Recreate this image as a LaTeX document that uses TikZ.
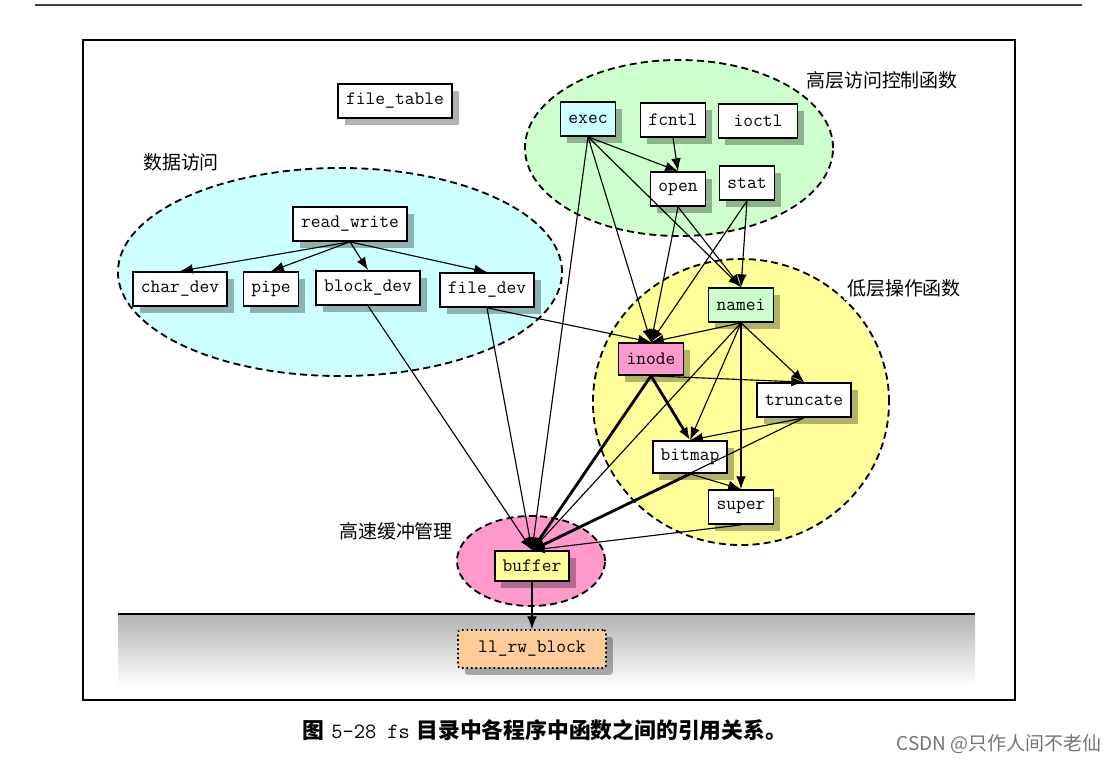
\documentclass[tikz,border=0pt]{standalone}
\usepackage{fontspec}
\newfontfamily\cjk{Noto Sans CJK SC}
\usetikzlibrary{arrows.meta,shadows}

\definecolor{cyanarea}{HTML}{CCFFFF}
\definecolor{greenarea}{HTML}{CCFFCC}
\definecolor{yellowarea}{HTML}{FFFF99}
\definecolor{pinkarea}{HTML}{FF99CC}
\definecolor{orangebox}{HTML}{FFCC99}

\begin{document}
\begin{tikzpicture}[x=0.025cm, y=-0.025cm,
  fnbox/.style={draw=black, line width=1.2pt, fill=white, rectangle,
    minimum height=0.85cm, inner xsep=0.2cm, inner ysep=2pt,
    font=\fontsize{13.5}{16}\selectfont\ttfamily,
    drop shadow={shadow xshift=0.17cm, shadow yshift=-0.17cm, fill=black, opacity=0.3}},
  area/.style={draw=black, line width=1.3pt, dash pattern=on 5pt off 3pt},
  grplbl/.style={font=\fontsize{13.5}{16}\selectfont\cjk, inner sep=2pt},
  ar/.style={-{Latex[length=3.2mm,width=2.4mm]}, line width=0.8pt},
  tar/.style={ar, line width=2pt},
]
\useasboundingbox (0,0) rectangle (1119,763);

%--- Rahmen ---
\draw[line width=2pt, black!75] (35,5) -- (1082,5);
\draw[line width=1.5pt] (83,40) rectangle (1015,700);
\shade[top color=black!30, bottom color=white] (118,614) rectangle (975,686);
\draw[line width=1pt] (118,614) -- (975,614);

%--- Bereiche ---
\draw[area, fill=cyanarea]   (340,272) ellipse [x radius=5.55cm, y radius=2.6cm];
\draw[area, fill=greenarea]  (679,148) ellipse [x radius=3.85cm, y radius=2.2cm];
\draw[area, fill=yellowarea] (741,402) ellipse [x radius=3.7cm, y radius=3.575cm];
\draw[area, fill=pinkarea]   (531,561) ellipse [x radius=1.85cm, y radius=1.125cm];

\node[grplbl] (lbldata) at (181,162) {数据访问};
\node[grplbl, fill=white] (lblhigh) at (882,80) {高层访问控制函数};
\node[grplbl, fill=white] (lbllow) at (904,288) {低层操作函数};
\node[grplbl] (lblbuf) at (396,531) {高速缓冲管理};

%--- Funktionen ---
\node[fnbox] (filetable) at (395,101) {file\_table};
\node[fnbox] (rw)        at (350,224) {read\_write};
\node[fnbox] (chardev)   at (180,289) {char\_dev};
\node[fnbox] (pipe)      at (271,289) {pipe};
\node[fnbox] (blockdev)  at (368,288) {block\_dev};
\node[fnbox] (filedev)   at (487,290) {file\_dev};

\node[fnbox, fill=cyanarea] (exec) at (588,119) {exec};
\node[fnbox] (fcntl) at (673,120) {fcntl};
\node[fnbox, minimum width=1.98cm] (ioctl) at (758,121) {ioctl};
\node[fnbox] (open)  at (678,189) {open};
\node[fnbox] (stat)  at (747,183) {stat};

\node[fnbox, fill=greenarea] (namei) at (741,305) {namei};
\node[fnbox, fill=pinkarea, minimum height=0.8cm] (inode) at (651,359) {inode};
\node[fnbox] (truncate) at (804,400) {truncate};
\node[fnbox, minimum height=0.8cm] (bitmap) at (690,457) {bitmap};
\node[fnbox] (super) at (741,507) {super};

\node[fnbox, fill=yellowarea, minimum height=0.75cm] (buffer) at (532,566) {buffer};
\node[fnbox, fill=orangebox, dotted, rounded corners=2pt, minimum width=3.7cm,
  minimum height=0.95cm] (llrw) at (532,649) {ll\_rw\_block};

%--- Aufrufe ---
\draw[ar] (rw.south) -- (chardev.north);
\draw[ar] (rw.south) -- (pipe.north);
\draw[ar] (rw.south) -- (blockdev.north);
\draw[ar] (rw.south) -- (filedev.north);

\draw[ar] (blockdev.south) -- (buffer.north);
\draw[ar] (filedev.south) -- (buffer.north);
\draw[ar] (filedev.south) -- (inode.north);

\draw[ar] (exec.south) -- (open.north);
\draw[ar] (exec.south) -- (namei.north);
\draw[ar] (exec.south) -- (inode.north);
\draw[ar] (exec.south) -- (buffer.north);
\draw[ar] (fcntl.south) -- (open.north);
\draw[ar] (open.south) -- (namei.north);
\draw[ar] (open.south) -- (inode.north);
\draw[ar] (stat.south) -- (namei.north);
\draw[ar] (stat.south) -- (inode.north);

\draw[ar] (namei.south) -- (inode.north);
\draw[ar] (namei.south) -- (truncate.north);
\draw[ar] (namei.south) -- (bitmap.north);
\draw[ar] (namei.south) -- (super.north);
\draw[ar] (namei.south) -- (buffer.north);
\draw[ar] (inode.south) -- (truncate.north);
\draw[tar] (inode.south) -- (bitmap.north);
\draw[tar] (inode.south) -- (buffer.north);
\draw[ar] (truncate.south) -- (bitmap.north);
\draw[ar] (truncate.south) -- (buffer.north);
\draw[ar] (bitmap.south) -- (super.north);
\draw[tar] (bitmap.south) -- (buffer.north);
\draw[ar] (super.south) -- (buffer.north);

\draw[ar] (buffer.south) -- (llrw.north);

%--- Titel ---
\node[font=\fontsize{15.5}{18}\selectfont, inner sep=0pt] (caption) at (545,730)
  {{\cjk\bfseries 图} {\ttfamily 5-28 fs} {\cjk\bfseries 目录中各程序中函数之间的引用关系。}};
\node[font=\fontsize{13.5}{16}\selectfont\cjk, text=black!55, inner sep=0pt] (mark) at (999,744)
  {CSDN @只作人间不老仙};
\end{tikzpicture}
\end{document}
